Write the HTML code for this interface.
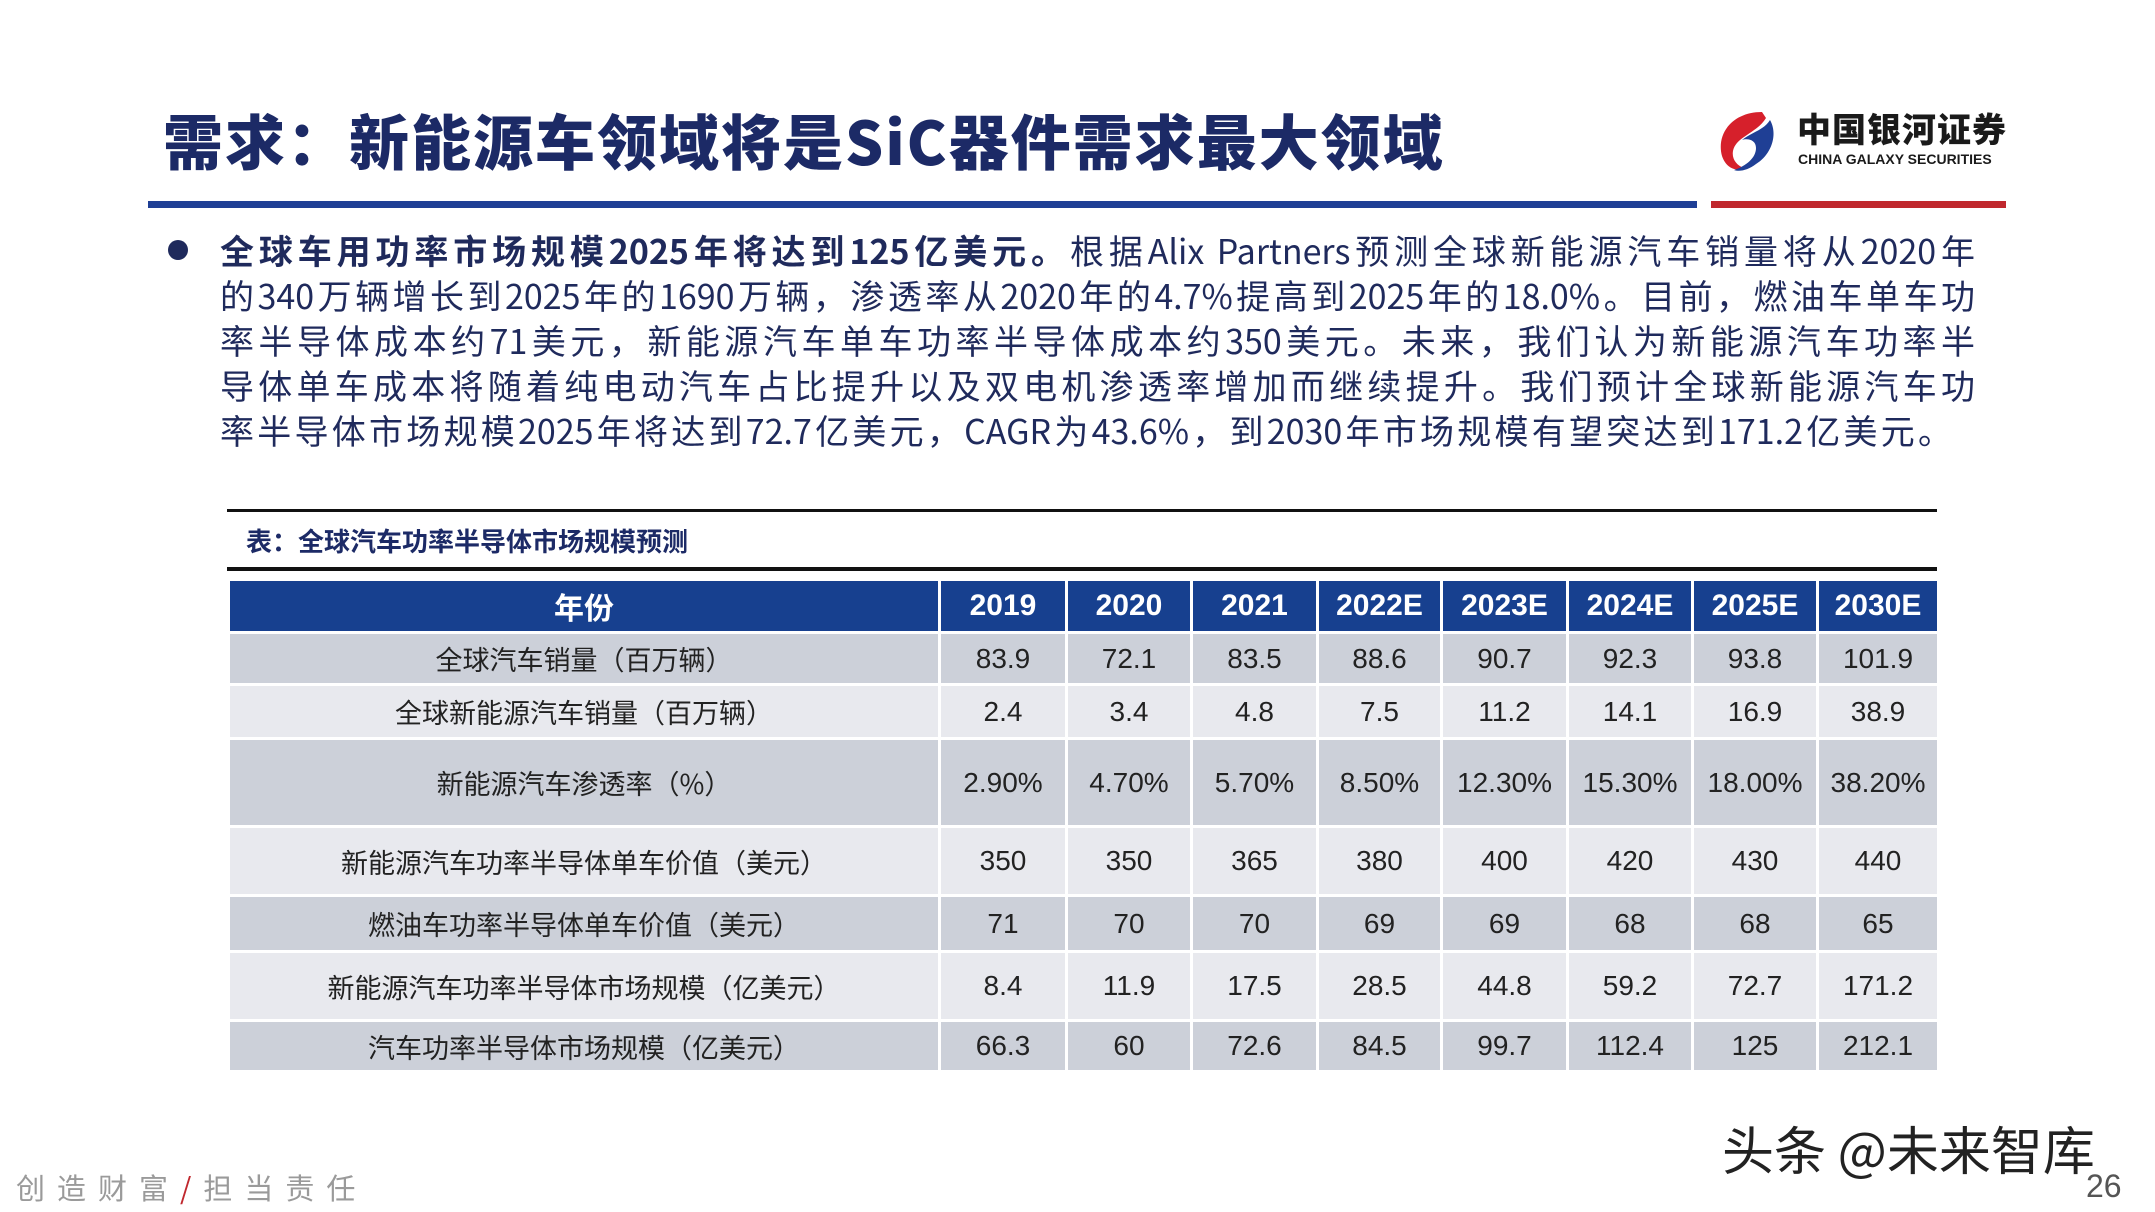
<!DOCTYPE html>
<html><head><meta charset="utf-8">
<style>
body{margin:0;width:2155px;height:1212px;position:relative;background:#fff;overflow:hidden;font-family:"Liberation Sans","Noto Sans CJK SC",sans-serif;}
.abs{position:absolute;}
#title{left:163px;top:96px;font-size:60px;font-weight:900;color:#1c2a66;white-space:nowrap;letter-spacing:2px;font-family:"Noto Sans CJK SC",sans-serif;}
.bl{position:absolute;left:220px;width:1755px;font-size:34px;color:#1f2a5c;white-space:nowrap;text-align:justify;text-align-last:justify;font-family:"Noto Sans CJK SC",sans-serif;line-height:45px;}
table{position:absolute;left:227px;top:578px;border-collapse:collapse;table-layout:fixed;font-family:"Liberation Sans","Noto Sans CJK SC",sans-serif;}
td,th{border:3px solid #fff;text-align:center;font-size:28px;color:#222;padding:0;}
th{background:#17408f;color:#fff;font-weight:bold;font-size:30px;}
tr.d td{background:#ccd0d9;}
tr.l td{background:#e8e9ee;}
td.n{font-family:"Noto Sans CJK SC",sans-serif;font-size:27px;}
</style></head><body>
<div id="title" class="abs">需求：新能源车领域将是SiC器件需求最大领域</div>
<div class="abs" style="left:1712px;top:106px;width:300px;height:70px;">
<svg width="72" height="68" style="position:absolute;left:0;top:0"><path d="M50 6 C20 6 4 28 10 50 C14 62 24 66 32 62 C20 58 16 44 28 34 C38 26 48 22 54 12 Z" fill="#d6202b"/><path d="M58 14 C66 28 60 48 44 58 C36 64 28 66 22 64 C34 60 44 52 44 42 C44 34 36 32 30 34 C40 26 52 24 58 14Z" fill="#1f3f95"/></svg>
<div class="abs" style="left:85px;top:2px;font-size:34px;font-weight:900;color:#1a1a1a;letter-spacing:1px;font-family:'Noto Sans CJK SC',sans-serif;line-height:40px;">中国银河证券</div>
<div class="abs" style="left:86px;top:45px;font-size:14px;font-weight:bold;color:#1a1a1a;white-space:nowrap;">CHINA GALAXY SECURITIES</div>
</div>
<div class="abs" style="left:148px;top:201px;width:1549px;height:7px;background:#1f3f95;"></div>
<div class="abs" style="left:1711px;top:201px;width:295px;height:7px;background:#c0282e;"></div>
<div class="abs" style="left:168px;top:240px;width:20px;height:20px;border-radius:50%;background:#1f2a5c;"></div>
<div>
<div class="bl" style="top:227px;"><b>全球车用功率市场规模2025年将达到125亿美元。</b>根据Alix Partners预测全球新能源汽车销量将从2020年</div>
<div class="bl" style="top:272px;">的340万辆增长到2025年的1690万辆，渗透率从2020年的4.7%提高到2025年的18.0%。目前，燃油车单车功</div>
<div class="bl" style="top:317px;">率半导体成本约71美元，新能源汽车单车功率半导体成本约350美元。未来，我们认为新能源汽车功率半</div>
<div class="bl" style="top:362px;">导体单车成本将随着纯电动汽车占比提升以及双电机渗透率增加而继续提升。我们预计全球新能源汽车功</div>
<div class="bl" style="top:407px;width:1732px;">率半导体市场规模2025年将达到72.7亿美元，CAGR为43.6%，到2030年市场规模有望突达到171.2亿美元。</div>
</div>
<div class="abs" style="left:227px;top:509px;width:1710px;height:3px;background:#111;"></div>
<div class="abs" style="left:246px;top:522px;font-size:26px;font-weight:bold;color:#1c2a66;font-family:'Noto Sans CJK SC',sans-serif;">表：全球汽车功率半导体市场规模预测</div>
<div class="abs" style="left:227px;top:567px;width:1710px;height:4px;background:#111;"></div>
<table>
<colgroup><col style="width:711px"><col style="width:127px"><col style="width:125px"><col style="width:126px"><col style="width:124px"><col style="width:126px"><col style="width:125px"><col style="width:125px"><col style="width:121px"></colgroup>
<tr style="height:53px"><th>年份</th><th>2019</th><th>2020</th><th>2021</th><th>2022E</th><th>2023E</th><th>2024E</th><th>2025E</th><th>2030E</th></tr>
<tr class="d" style="height:52px"><td class="n">全球汽车销量（百万辆）</td><td>83.9</td><td>72.1</td><td>83.5</td><td>88.6</td><td>90.7</td><td>92.3</td><td>93.8</td><td>101.9</td></tr>
<tr class="l" style="height:54px"><td class="n">全球新能源汽车销量（百万辆）</td><td>2.4</td><td>3.4</td><td>4.8</td><td>7.5</td><td>11.2</td><td>14.1</td><td>16.9</td><td>38.9</td></tr>
<tr class="d" style="height:88px"><td class="n">新能源汽车渗透率（%）</td><td>2.90%</td><td>4.70%</td><td>5.70%</td><td>8.50%</td><td>12.30%</td><td>15.30%</td><td>18.00%</td><td>38.20%</td></tr>
<tr class="l" style="height:69px"><td class="n">新能源汽车功率半导体单车价值（美元）</td><td>350</td><td>350</td><td>365</td><td>380</td><td>400</td><td>420</td><td>430</td><td>440</td></tr>
<tr class="d" style="height:56px"><td class="n">燃油车功率半导体单车价值（美元）</td><td>71</td><td>70</td><td>70</td><td>69</td><td>69</td><td>68</td><td>68</td><td>65</td></tr>
<tr class="l" style="height:69px"><td class="n">新能源汽车功率半导体市场规模（亿美元）</td><td>8.4</td><td>11.9</td><td>17.5</td><td>28.5</td><td>44.8</td><td>59.2</td><td>72.7</td><td>171.2</td></tr>
<tr class="d" style="height:51px"><td class="n">汽车功率半导体市场规模（亿美元）</td><td>66.3</td><td>60</td><td>72.6</td><td>84.5</td><td>99.7</td><td>112.4</td><td>125</td><td>212.1</td></tr>
</table>
<div class="abs" style="left:16px;top:1166px;font-size:29px;color:#9a9a9a;letter-spacing:12px;font-family:'Noto Sans CJK SC',sans-serif;">创造财富<span style="color:#c0282e">/</span>担当责任</div>
<div class="abs" style="left:1722px;top:1110px;font-size:52px;color:#222;font-family:'Noto Sans CJK SC',sans-serif;">头条 @未来智库</div>
<div class="abs" style="left:2086px;top:1168px;font-size:32px;color:#555;">26</div>
</body></html>
